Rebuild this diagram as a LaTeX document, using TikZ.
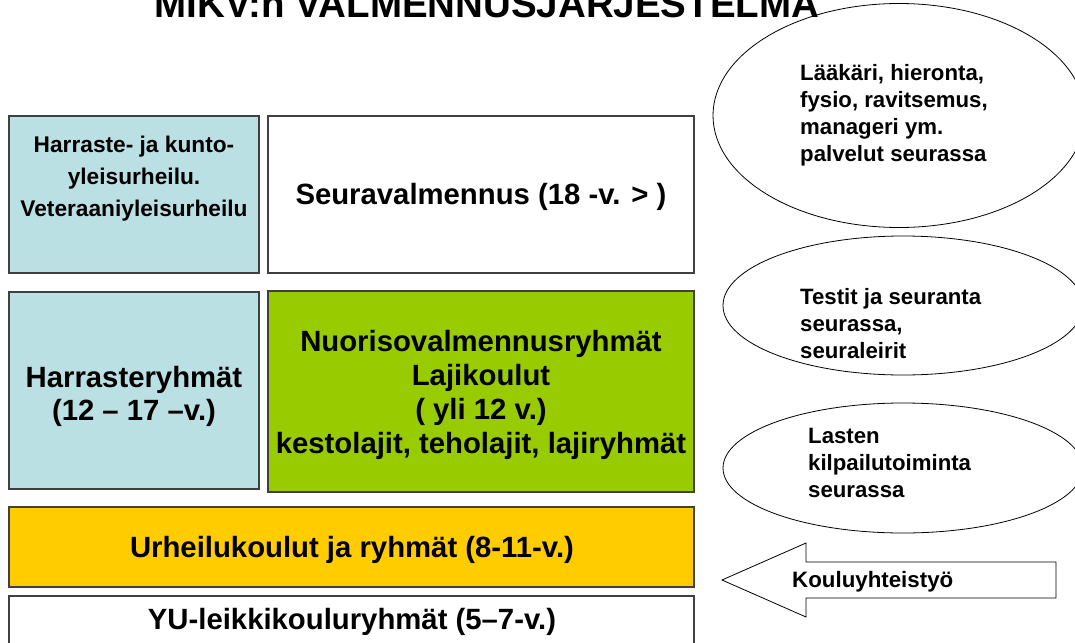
\documentclass[tikz,border=0pt]{standalone}
\usepackage{fontspec}
\setmainfont{Liberation Sans}
\usetikzlibrary{shapes.geometric}

\definecolor{harraste}{HTML}{BBE0E3}
\definecolor{nuoriso}{HTML}{99CC00}
\definecolor{urheilu}{HTML}{FFCC00}
\definecolor{reuna}{HTML}{404040}

\newcommand{\isoteksti}{\fontsize{29.3}{34}\selectfont\bfseries}
\newcommand{\keskiteksti}{\fontsize{22.7}{32}\selectfont\bfseries}
\newcommand{\pieniteksti}{\fontsize{22.2}{27}\selectfont\bfseries}

\begin{document}
\begin{tikzpicture}[x=1pt, y=-1pt,
  laatikko/.style={draw=reuna, line width=1.1pt},
  teksti/.style={shape=rectangle, draw=none, inner sep=0pt, align=center},
  vasen/.style={shape=rectangle, draw=none, inner sep=0pt, align=left, anchor=west},
  soikio/.style={ellipse, draw=black, line width=0.8pt, inner sep=0pt}]
\clip (0,0) rectangle (1075,642);
\useasboundingbox (0,0) rectangle (1075,642);
%%%%%%%%%%%%%%%%%%%%%%%%%%%%%%%%%%%%%%%%%%% HELP LINES
%\draw[help lines, step=50] (0,0) grid (1075,642);

%%%%%%%%%%%%%%%%%%%%%%%%%%%%%%%%%%%%%%%%%%% title
\node[teksti, anchor=base, font=\fontsize{38.5}{40}\selectfont\bfseries](otsikko) at (487,18){MIKV:n VALMENNUSJÄRJESTELMÄ};

%%%%%%%%%%%%%%%%%%%%%%%%%%%%%%%%%%%%%%%%%%% elements
\draw[laatikko, fill=harraste] (9,116) rectangle (259,273);
\node[teksti, font=\keskiteksti](kunto) at (134,179){Harraste- ja kunto-\\ yleisurheilu.\\ Veteraaniyleisurheilu};
\draw[laatikko, fill=white] (268,116) rectangle (694,273);
\node[teksti, font=\isoteksti](seura) at (481,197){Seuravalmennus (18 -v. > )};
\draw[laatikko, fill=harraste] (9,292) rectangle (259,489);
\node[teksti, font=\fontsize{29.3}{33}\selectfont\bfseries](harraste) at (134,396){Harrasteryhmät\\ (12 – 17 –v.)};
\draw[laatikko, fill=nuoriso] (268,291) rectangle (694,492);
\node[teksti, font=\isoteksti](nuoriso) at (481,395){Nuorisovalmennusryhmät\\ Lajikoulut\\ ( yli 12 v.)\\ kestolajit, teholajit, lajiryhmät};
\draw[laatikko, fill=urheilu] (9,507) rectangle (694,587);
\node[teksti, font=\isoteksti](urheilu) at (352,550){Urheilukoulut ja ryhmät (8-11-v.)};
\draw[laatikko, fill=white] (9,596) rectangle (694,660);
\node[teksti, font=\isoteksti](leikki) at (352,622){YU-leikkikouluryhmät (5–7-v.)};

%%%%% services
\node[soikio, minimum width=372pt, minimum height=224pt](e1) at (899,115.5){};
\node[vasen, font=\pieniteksti](palvelut) at (800,115){Lääkäri, hieronta,\\ fysio, ravitsemus,\\ manageri ym.\\ palvelut seurassa};
\node[soikio, minimum width=360pt, minimum height=139pt](e2) at (903,305.5){};
\node[vasen, font=\pieniteksti](testit) at (800,324){Testit ja seuranta\\ seurassa,\\ seuraleirit};
\node[soikio, minimum width=360pt, minimum height=130pt](e3) at (903,468){};
\node[vasen, font=\pieniteksti](lapset) at (808,463){Lasten\\ kilpailutoiminta\\ seurassa};

%%%%% arrow
\draw[line width=0.8pt] (722,580) -- (806,543) -- (806,562) -- (1056,562) -- (1056,598) -- (806,598) -- (806,617) -- cycle;
\node[vasen, font=\fontsize{22.3}{27}\selectfont\bfseries](koulu) at (792,582){Kouluyhteistyö};
\end{tikzpicture}
\end{document}
